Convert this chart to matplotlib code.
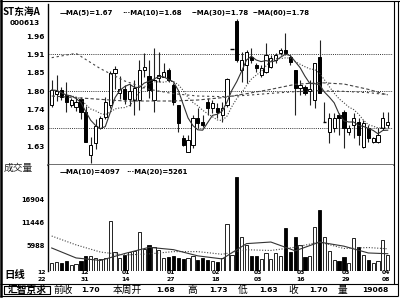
import matplotlib
matplotlib.use("Agg")
import matplotlib.pyplot as plt
import numpy as np
import pandas as pd
from matplotlib.patches import Rectangle

plt.rcParams['font.family'] = ['Noto Sans CJK SC', 'DejaVu Sans']

# stock header
stock_name = "ST东海A"
stock_code = "000613"

# daily candles
opens = [1.753, 1.785, 1.798, 1.783, 1.753, 1.747, 1.771, 1.732, 1.603, 1.639,
         1.684, 1.717, 1.753, 1.850, 1.790, 1.801, 1.771, 1.768, 1.768, 1.857,
         1.840, 1.768, 1.834, 1.837, 1.858, 1.813, 1.753, 1.654, 1.612, 1.633,
         1.714, 1.702, 1.762, 1.744, 1.744, 1.723, 1.753, 1.921, 2.005, 1.858,
         1.873, 1.897, 1.873, 1.843, 1.852, 1.867, 1.888, 1.909, 1.918, 1.897,
         1.858, 1.804, 1.807, 1.795, 1.768, 1.897, 1.702, 1.672, 1.684, 1.723,
         1.732, 1.672, 1.693, 1.702, 1.627, 1.684, 1.642, 1.642, 1.684, 1.693]
highs = [1.828, 1.843, 1.807, 1.822, 1.774, 1.777, 1.777, 1.750, 1.657, 1.710,
         1.720, 1.777, 1.855, 1.870, 1.840, 1.813, 1.815, 1.828, 1.888, 1.909,
         1.888, 1.924, 1.912, 1.879, 1.864, 1.819, 1.753, 1.663, 1.663, 1.723,
         1.744, 1.723, 1.774, 1.768, 1.759, 1.762, 1.834, 1.921, 2.011, 1.912,
         1.918, 1.924, 1.879, 1.873, 1.939, 1.903, 1.909, 1.924, 1.969, 1.903,
         1.858, 1.828, 1.813, 1.828, 1.879, 1.948, 1.762, 1.729, 1.729, 1.729,
         1.738, 1.693, 1.729, 1.714, 1.708, 1.693, 1.657, 1.684, 1.732, 1.732]
lows = [1.747, 1.765, 1.768, 1.732, 1.747, 1.735, 1.710, 1.642, 1.579, 1.620,
        1.680, 1.710, 1.745, 1.800, 1.770, 1.756, 1.750, 1.723, 1.738, 1.837,
        1.774, 1.732, 1.822, 1.837, 1.822, 1.753, 1.672, 1.630, 1.612, 1.624,
        1.684, 1.687, 1.723, 1.729, 1.714, 1.702, 1.747, 1.921, 1.882, 1.822,
        1.819, 1.879, 1.852, 1.837, 1.849, 1.864, 1.879, 1.903, 1.903, 1.873,
        1.723, 1.783, 1.783, 1.753, 1.744, 1.789, 1.702, 1.639, 1.672, 1.663,
        1.624, 1.663, 1.654, 1.633, 1.624, 1.642, 1.639, 1.639, 1.678, 1.684]
closes = [1.798, 1.795, 1.777, 1.762, 1.768, 1.762, 1.732, 1.642, 1.633, 1.690,
          1.714, 1.762, 1.849, 1.860, 1.800, 1.771, 1.795, 1.804, 1.858, 1.866,
          1.798, 1.828, 1.843, 1.852, 1.828, 1.762, 1.699, 1.633, 1.648, 1.714,
          1.699, 1.693, 1.744, 1.759, 1.732, 1.744, 1.831, 1.921, 1.888, 1.888,
          1.912, 1.888, 1.864, 1.864, 1.903, 1.894, 1.903, 1.918, 1.909, 1.882,
          1.804, 1.813, 1.789, 1.800, 1.879, 1.789, 1.702, 1.714, 1.714, 1.714,
          1.684, 1.684, 1.714, 1.663, 1.699, 1.654, 1.654, 1.663, 1.714, 1.702]
volumes = [2000, 2200, 1800, 2400, 1500, 1700, 2300, 3600, 3500, 3200,
           2800, 3000, 11800, 4500, 3000, 3800, 4500, 4800, 9250, 5300,
           6200, 5800, 5000, 3000, 3300, 3500, 3000, 2800, 3200, 3600,
           2700, 3000, 2600, 2400, 2200, 3200, 11150, 3800, 22300, 8100,
           6200, 3500, 3600, 2900, 4300, 2900, 4300, 3500, 10200, 4600,
           8100, 6100, 3300, 3600, 10400, 14500, 8100, 4800, 2500, 2300,
           3300, 1900, 7800, 5700, 3900, 2500, 2000, 2400, 7400, 3800]

# long averages at sample bars
ma_bars = [0, 5, 10, 15, 20, 25, 30, 35, 40, 45, 50, 55, 60, 65, 69]
ma30 = [1.780, 1.775, 1.770, 1.765, 1.765, 1.765, 1.768, 1.775, 1.787, 1.800,
        1.815, 1.820, 1.816, 1.800, 1.783]
ma60 = [1.895, 1.908, 1.862, 1.825, 1.800, 1.787, 1.780, 1.778, 1.782, 1.788,
        1.793, 1.796, 1.794, 1.790, 1.784]
vma10 = [5460, 3100, 2500, 4150, 5615, 5065, 3590, 2870, 6495, 6875,
         4790, 6860, 5890, 4280, 4097]
vma20 = [8300, 6200, 4500, 3800, 4060, 4600, 4600, 3970, 5040, 4870,
         5640, 6870, 5340, 5570, 5261]

price_ticks = [1.96, 1.905, 1.85, 1.795, 1.74, 1.685, 1.63]
price_labels = ["1.96", "1.91", "1.85", "1.80", "1.74", "1.68", "1.63"]
grid_levels = [1.905, 1.795, 1.685]
vol_ticks = [16904, 11446, 5988]

date_months = ["12", "12", "01", "01", "02", "03", "03", "03", "04"]
date_days = ["22", "31", "14", "27", "18", "03", "16", "29", "08"]

legend_price = ["—MA(5)=1.67", "···MA(10)=1.68", "--MA(30)=1.78", "--MA(60)=1.78"]
legend_vol = ["—MA(10)=4097", "···MA(20)=5261"]

info_names = ["前收", "本周开", "高", "低", "收", "量"]
info_values = ["1.70", "1.68", "1.73", "1.63", "1.70", "19068"]

W, H = 400, 300


def box(x0, y0, x1, y1):
    return [x0 / W, 1 - y1 / H, (x1 - x0) / W, (y1 - y0) / H]


fig = plt.figure(figsize=(4, 3), dpi=100)
fig.patch.set_facecolor('white')
ax = fig.add_axes(box(48, 4, 393, 165))
axv = fig.add_axes(box(48, 165, 393, 271), sharex=ax)
ov = fig.add_axes([0, 0, 1, 1], zorder=5)
ov.set_xlim(0, W)
ov.set_ylim(H, 0)
ov.axis('off')

x = np.arange(len(closes))
up = [c >= o for o, c in zip(opens, closes)]

# candles
ax.vlines(x, lows, highs, color='#222222', lw=0.8, zorder=2)
for i in x:
    lo, hi = min(opens[i], closes[i]), max(opens[i], closes[i])
    if hi - lo < 0.002:
        ax.hlines(closes[i], i - 0.33, i + 0.33, color='black', lw=1.0, zorder=3)
    else:
        ax.add_patch(Rectangle((i - 0.33, lo), 0.66, hi - lo,
                               facecolor='white' if up[i] else 'black',
                               edgecolor='black', lw=0.7, zorder=3))

s = pd.Series(closes)
ax.plot(x, s.rolling(5, min_periods=1).mean(), color='#333333', lw=0.8, zorder=4)
ax.plot(x, s.rolling(10, min_periods=1).mean(), color='#444444', lw=0.8,
        ls=(0, (1, 1.5)), zorder=4)
ax.plot(ma_bars, ma30, color='#444444', lw=0.8, ls=(0, (3, 2)), zorder=4)
ax.plot(ma_bars, ma60, color='#444444', lw=0.8, ls=(0, (2, 2.5)), zorder=4)
for g in grid_levels:
    ax.axhline(g, color='#333333', lw=0.7, ls=(0, (1, 1.2)), zorder=1)

ax.set_xlim(-0.76, 70.08)
ax.set_ylim(1.573, 2.056)
ax.set_yticks(price_ticks)
ax.set_yticklabels(price_labels, fontsize=5.3, fontweight='bold', family='DejaVu Sans')
ax.tick_params(axis='y', length=0, pad=2.5)
ax.tick_params(axis='x', length=0, labelbottom=False)

# volume
axv.bar(x, volumes, width=0.66, color=['white' if u else 'black' for u in up],
        edgecolor='black', lw=0.6, zorder=2)
axv.plot(ma_bars, vma10, color='#333333', lw=0.8, zorder=3)
axv.plot(ma_bars, vma20, color='#444444', lw=0.8, ls=(0, (1, 1.5)), zorder=3)
axv.set_ylim(0, 25150)
axv.set_yticks(vol_ticks)
axv.set_yticklabels([str(v) for v in vol_ticks], fontsize=4.8, fontweight='bold',
                    family='DejaVu Sans')
axv.tick_params(axis='y', length=0, pad=2.5)
axv.tick_params(axis='x', length=0, labelbottom=False)

for a in (ax, axv):
    for side in ('top', 'right', 'bottom'):
        a.spines[side].set_visible(False)
    a.spines['left'].set_color('black')
    a.spines['left'].set_linewidth(1.0)
ax.spines['bottom'].set_visible(True)
ax.spines['bottom'].set_color('#555555')
ax.spines['bottom'].set_linewidth(1.2)

# frame
k = dict(color='black', lw=0.8, solid_capstyle='butt')
ov.plot([1.2, 1.2], [0, 296], color='black', lw=1.8)
ov.plot([0, 400], [1, 1], **k)
ov.plot([393.5, 393.5], [1, 284], **k)
ov.plot([397.5, 397.5], [1, 296], **k)
ov.plot([0, 398], [284, 284], **k)
ov.plot([0, 398], [295.5, 295.5], **k)
ov.plot([4, 50, 50, 4, 4], [285.5, 285.5, 294, 294, 285.5], **k)

# texts
ov.text(3, 12, stock_name, fontsize=7.0, fontweight='bold', va='center', ha='left')
ov.text(40, 23, stock_code, fontsize=5.2, fontweight='bold', va='center',
        ha='right', family='DejaVu Sans')
ov.text(4, 168, "成交量", fontsize=7, va='center', ha='left', color='#222222')
ov.text(4, 275, "日线", fontsize=7.5, fontweight='bold', va='center', ha='left')

for txt, px in zip(legend_price, [60, 122, 192, 253]):
    ov.text(px, 13, txt, fontsize=5.0, fontweight='bold', va='center',
            ha='left', family='DejaVu Sans')
for txt, px in zip(legend_vol, [60, 126]):
    ov.text(px, 172, txt, fontsize=5.0, fontweight='bold', va='center',
            ha='left', family='DejaVu Sans')

for m, d, px in zip(date_months, date_days,
                    [42, 85, 126, 171, 216, 257.5, 300.5, 345.5, 385.5]):
    ov.text(px, 272.5, m, fontsize=4.4, fontweight='bold', ha='center',
            va='center', family='DejaVu Sans')
    ov.text(px, 279.5, d, fontsize=4.4, fontweight='bold', ha='center',
            va='center', family='DejaVu Sans')

ov.text(27, 290, "汇智京求", fontsize=7, fontweight='bold', ha='center', va='center')
name_x = [53, 113, 187, 238, 288, 338]
val_right = [100, 175, 228, 278, 328, 389]
for nm, val, nx, vx in zip(info_names, info_values, name_x, val_right):
    ov.text(nx, 290, nm, fontsize=7, ha='left', va='center')
    ov.text(vx, 290, val, fontsize=5.4, fontweight='bold', ha='right',
            va='center', family='DejaVu Sans')

fig.savefig("out.png", dpi=100, facecolor='white')
